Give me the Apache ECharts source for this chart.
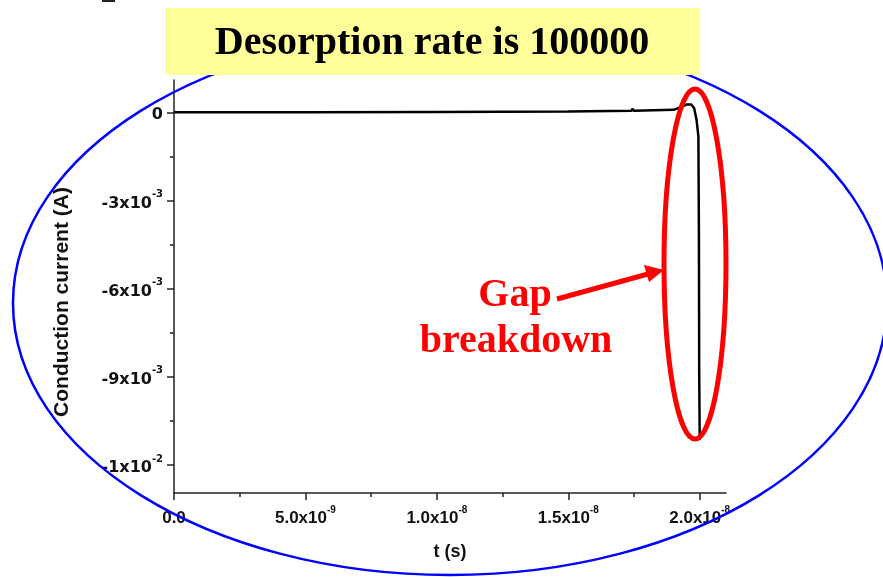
<!DOCTYPE html>
<html><head><meta charset="utf-8">
<script src="https://cdn.jsdelivr.net/npm/echarts@6/dist/echarts.min.js"></script>
<style>html,body{margin:0;padding:0;background:#fff}#c{width:883px;height:577px}</style>
</head><body><div id="c"></div>
<script>
// ---- data (t in s, current in A) ----
var timeS = [0, 5.0e-9, 1.0e-8, 1.5e-8, 1.74e-8, 1.744e-8, 1.75e-8, 1.90e-8, 1.93e-8, 1.949e-8, 1.968e-8, 1.979e-8, 1.988e-8, 1.995e-8, 1.997e-8, 1.998e-8, 2.0e-8];
var currentA = [0, 0, 0.00001, 0.00003, 0.00005, 0.00012, 0.00005, 0.000085, 0.00018, 0.000265, 0.000265, 0.00014, -0.00026, -0.00082, -0.0042, -0.0088, -0.01114];

var xTickValues = [0, 5e-9, 1e-8, 1.5e-8, 2e-8];
var xTickBase = ['0.0', '5.0x10', '1.0x10', '1.5x10', '2.0x10'];
var xTickExp = ['', '-9', '-8', '-8', '-8'];
var xMinorValues = [2.5e-9, 7.5e-9, 1.25e-8, 1.75e-8];

var yTickValues = [0, -0.003, -0.006, -0.009, -0.012];
var yTickBase = ['0', '-3x10', '-6x10', '-9x10', '-1x10'];
var yTickExp = ['', '-3', '-3', '-3', '-2'];
var yMinorValues = [-0.0015, -0.0045, -0.0075, -0.0105];

var titleText = 'Desorption rate is 100000';
var xName = 't (s)';
var yName = 'Conduction current (A)';
var annoLines = ['Gap', 'breakdown'];

function fmt(vals, base, exp) {
  return function (v) {
    for (var i = 0; i < vals.length; i++) {
      if (Math.abs(v - vals[i]) < 1e-12) {
        return exp[i] ? '{m|' + base[i] + '}{e|' + exp[i] + '}' : '{m|' + base[i] + '}';
      }
    }
    return '';
  };
}
var richY = {
  m: {fontFamily: 'DejaVu Sans', fontWeight: 'bold', fontSize: 16, color: '#111', lineHeight: 22, verticalAlign: 'bottom'},
  e: {fontFamily: 'DejaVu Sans', fontWeight: 'bold', fontSize: 10, color: '#111', lineHeight: 12, verticalAlign: 'top'}
};
var richX = {
  m: {fontFamily: 'Liberation Sans', fontWeight: 'bold', fontSize: 17, color: '#111', lineHeight: 22, verticalAlign: 'bottom'},
  e: {fontFamily: 'Liberation Sans', fontWeight: 'bold', fontSize: 10, color: '#111', lineHeight: 12, verticalAlign: 'top'}
};
var axisCol = '#222';
var xMin = 0, xMax = 2.1e-8, yMin = -0.01295, yMax = 0.0011;

var chart = echarts.init(document.getElementById('c'), null, {renderer: 'canvas'});
chart.setOption({
  animation: false,
  backgroundColor: '#fff',
  grid: {left: 174, right: 157, top: 80, bottom: 84, containLabel: false},
  xAxis: [{
    type: 'value', min: xMin, max: xMax,
    name: xName, nameLocation: 'middle', nameGap: 50,
    nameTextStyle: {fontFamily: 'Liberation Sans', fontWeight: 'bold', fontSize: 18, color: '#111'},
    axisLine: {show: true, onZero: false, lineStyle: {color: axisCol, width: 1.5}},
    axisTick: {show: true, inside: false, length: 7, lineStyle: {color: axisCol, width: 1.5}, customValues: xTickValues},
    axisLabel: {show: true, margin: 12, formatter: fmt(xTickValues, xTickBase, xTickExp), rich: richX, customValues: xTickValues},
    splitLine: {show: false}
  }, {
    type: 'value', min: xMin, max: xMax, position: 'bottom',
    axisLine: {show: false, onZero: false},
    axisTick: {show: true, inside: false, length: 4, lineStyle: {color: axisCol, width: 1.5}, customValues: xMinorValues},
    axisLabel: {show: false}, splitLine: {show: false}
  }],
  yAxis: [{
    type: 'value', min: yMin, max: yMax,
    axisLine: {show: true, onZero: false, lineStyle: {color: axisCol, width: 1.5}},
    axisTick: {show: true, inside: false, length: 7, lineStyle: {color: axisCol, width: 1.5}, customValues: yTickValues},
    axisLabel: {show: true, margin: 11, formatter: fmt(yTickValues, yTickBase, yTickExp), rich: richY, customValues: yTickValues},
    splitLine: {show: false}
  }, {
    type: 'value', min: yMin, max: yMax, position: 'left',
    axisLine: {show: false, onZero: false},
    axisTick: {show: true, inside: false, length: 4, lineStyle: {color: axisCol, width: 1.5}, customValues: yMinorValues},
    axisLabel: {show: false}, splitLine: {show: false}
  }],
  series: [{
    type: 'line', xAxisIndex: 0, yAxisIndex: 0, symbol: 'none',
    lineStyle: {color: '#000', width: 2.5},
    data: timeS.map(function (t, i) { return [t, currentA[i]]; })
  }],
  graphic: [
    {type: 'text', z: 99, x: 62, y: 302, rotation: Math.PI / 2, style: {text: yName, font: 'bold 21px "Liberation Sans"', fill: '#111', align: 'center', verticalAlign: 'middle'}},
    {type: 'rect', z: 100, shape: {x: 102, y: 0, width: 13, height: 2}, style: {fill: '#222'}},
    {type: 'ellipse', z: 100, shape: {cx: 450, cy: 303, rx: 437, ry: 272}, style: {fill: null, stroke: '#0000ff', lineWidth: 2.5}},
    {type: 'rect', z: 101, shape: {x: 165, y: 8, width: 535, height: 67}, style: {fill: '#ffff99'}},
    {type: 'text', z: 102, x: 432, y: 44, style: {text: titleText, font: 'bold 40px "Liberation Serif"', fill: '#000', align: 'center', verticalAlign: 'middle'}},
    {type: 'ellipse', z: 103, shape: {cx: 695, cy: 264, rx: 31, ry: 175}, style: {fill: null, stroke: '#ff0000', lineWidth: 5}},
    {type: 'line', z: 103, shape: {x1: 557, y1: 299, x2: 648, y2: 274}, style: {stroke: '#ff0000', lineWidth: 5}},
    {type: 'polygon', z: 103, shape: {points: [[664, 270], [644, 265], [649, 282]]}, style: {fill: '#ff0000'}},
    {type: 'text', z: 103, x: 515, y: 296, style: {text: annoLines[0], font: 'bold 40px "Liberation Serif"', fill: '#ff0000', align: 'center', verticalAlign: 'middle'}},
    {type: 'text', z: 103, x: 516, y: 342, style: {text: annoLines[1], font: 'bold 40px "Liberation Serif"', fill: '#ff0000', align: 'center', verticalAlign: 'middle'}}
  ]
});
</script></body></html>
